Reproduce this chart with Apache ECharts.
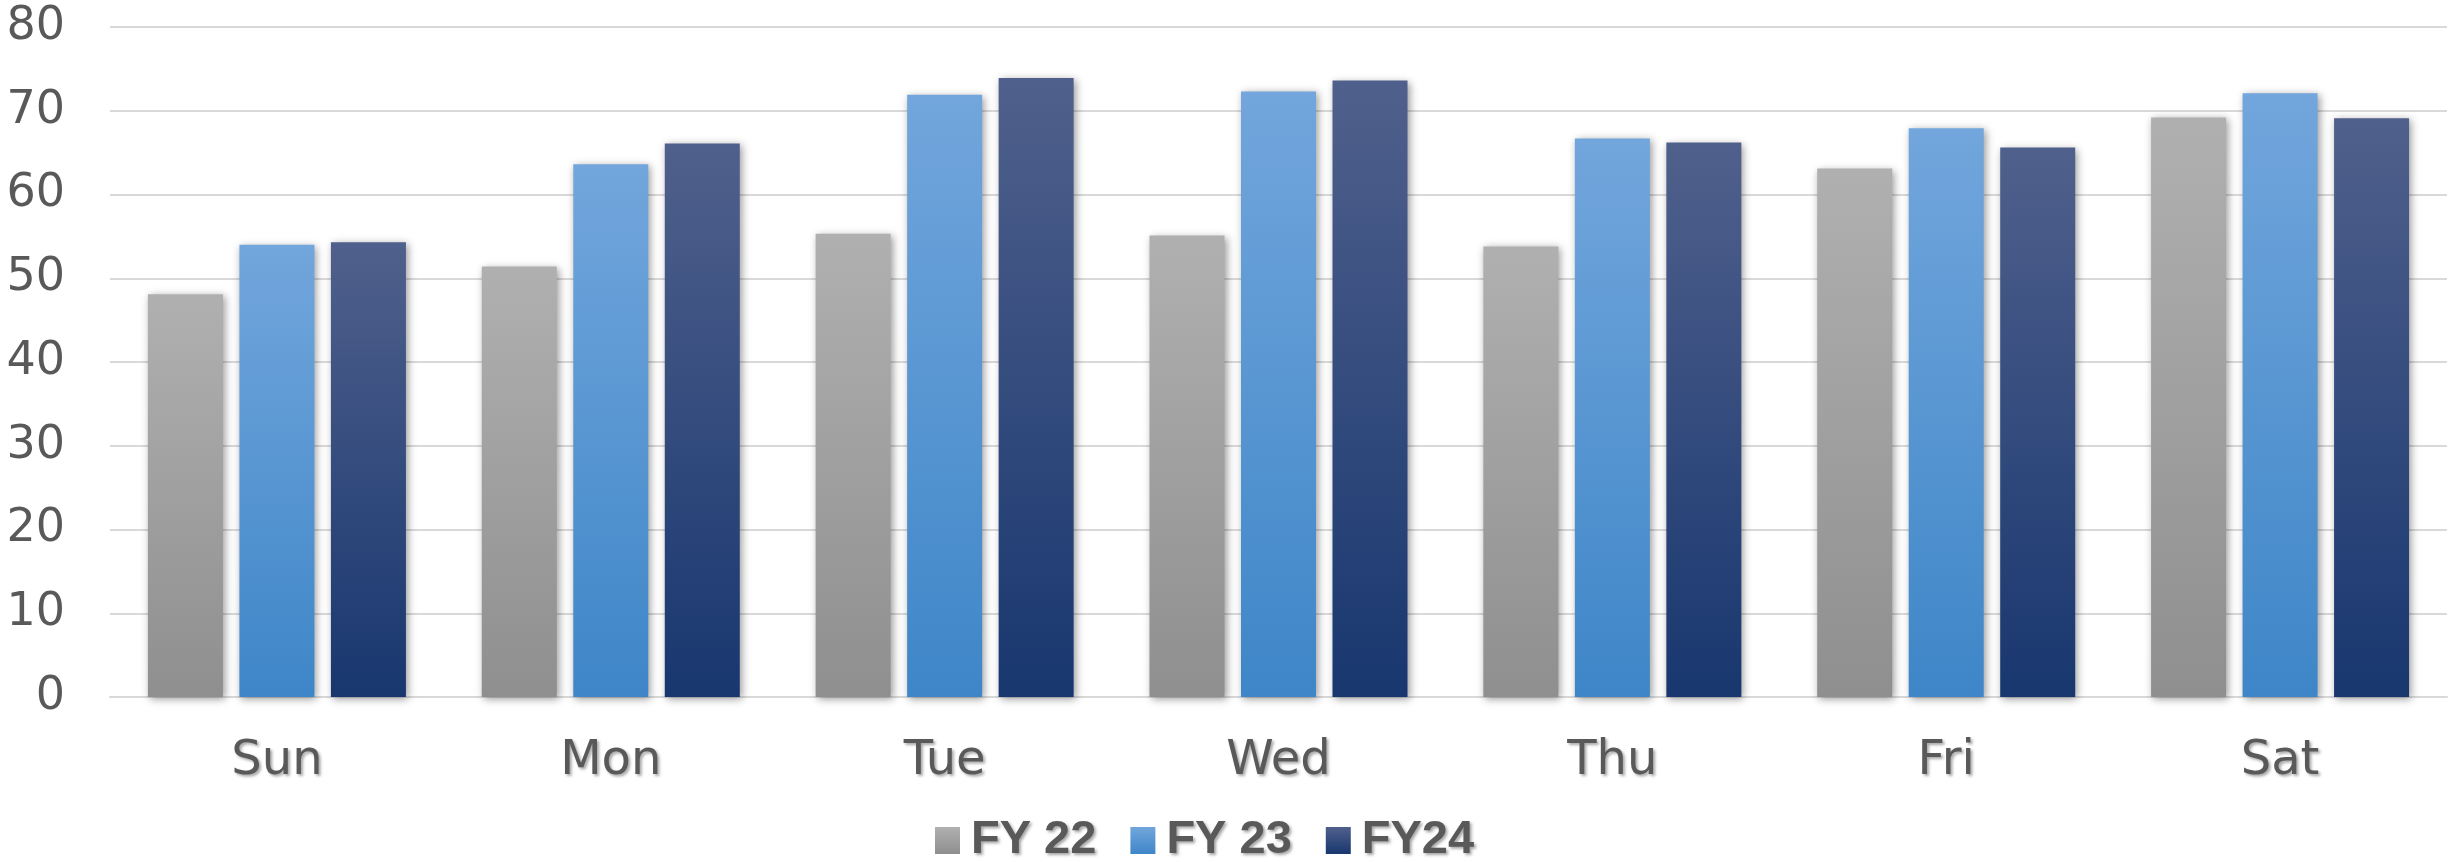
<!DOCTYPE html>
<html>
<head>
<meta charset="utf-8">
<title>FY by weekday</title>
<script src="https://cdn.jsdelivr.net/npm/echarts@6/dist/echarts.min.js"></script>
<style>
    html, body { margin: 0; padding: 0; background: #ffffff; }
    #chartArea { width: 2456px; height: 862px; }
</style>
</head>
<body>
<div id="chartArea"></div>
<script>
// 数据
var days = ['Sun', 'Mon', 'Tue', 'Wed', 'Thu', 'Fri', 'Sat'];
var seriesNames = ['FY 22', 'FY 23', 'FY24'];
var fy22 = [48.1, 51.4, 55.3, 55.1, 53.8, 63.1, 69.2];
var fy23 = [54.0, 63.6, 71.9, 72.3, 66.7, 67.9, 72.1];
var fy24 = [54.3, 66.1, 73.9, 73.6, 66.2, 65.6, 69.1];
var yTicks = [0, 10, 20, 30, 40, 50, 60, 70, 80];

var dom = document.getElementById('chartArea');
var myChart = echarts.init(dom);

//竖向渐变
function barGradient(topColor, bottomColor) {
    return new echarts.graphic.LinearGradient(0, 0, 0, 1, [
        {offset: 0, color: topColor},
        {offset: 1, color: bottomColor}
    ]);
}

function barSeries(name, data, topColor, bottomColor) {
    return {
        name: name,
        type: 'bar',
        data: data,
        barWidth: 75,
        barGap: '22%',
        itemStyle: {
            color: barGradient(topColor, bottomColor),
            shadowColor: 'rgba(0, 0, 0, 0.4)',
            shadowBlur: 8,
            shadowOffsetX: 2,
            shadowOffsetY: 2
        }
    };
}

var labelShadow = {
    textShadowColor: 'rgba(0, 0, 0, 0.35)',
    textShadowBlur: 3,
    textShadowOffsetX: 2,
    textShadowOffsetY: 2
};

var option = {
    animation: false,
    backgroundColor: '#ffffff',
    grid: {
        left: 110,
        right: 9,
        top: 27,
        bottom: 165
    },
    legend: {
        data: seriesNames,
        left: 930,
        top: 812,
        icon: 'rect',
        itemWidth: 25,
        itemHeight: 27,
        itemGap: 34,
        textStyle: Object.assign({
            fontFamily: '"Liberation Sans", Arial, sans-serif',
            fontWeight: 'bold',
            fontSize: 47,
            color: '#595959',
            padding: [0, 0, 0, 6]
        }, labelShadow)
    },
    xAxis: {
        type: 'category',
        data: days,
        axisTick: {show: false},
        axisLine: {lineStyle: {color: '#d9d9d9', width: 2}},
        axisLabel: Object.assign({
            margin: 41,
            fontFamily: '"DejaVu Sans", sans-serif',
            fontSize: 48,
            color: '#595959'
        }, labelShadow)
    },
    yAxis: {
        type: 'value',
        min: yTicks[0],
        max: yTicks[yTicks.length - 1],
        interval: yTicks[1] - yTicks[0],
        axisLine: {show: false},
        axisTick: {show: false},
        splitLine: {lineStyle: {color: '#d9d9d9', width: 2}},
        axisLabel: {
            margin: 45,
            fontFamily: '"DejaVu Sans", sans-serif',
            fontSize: 46,
            color: '#595959'
        }
    },
    series: [
        barSeries(seriesNames[0], fy22, '#b0b0b0', '#8f8f8f'),
        barSeries(seriesNames[1], fy23, '#72a6dc', '#3e86c8'),
        barSeries(seriesNames[2], fy24, '#50608c', '#18376f')
    ]
};

myChart.setOption(option);
</script>
</body>
</html>
